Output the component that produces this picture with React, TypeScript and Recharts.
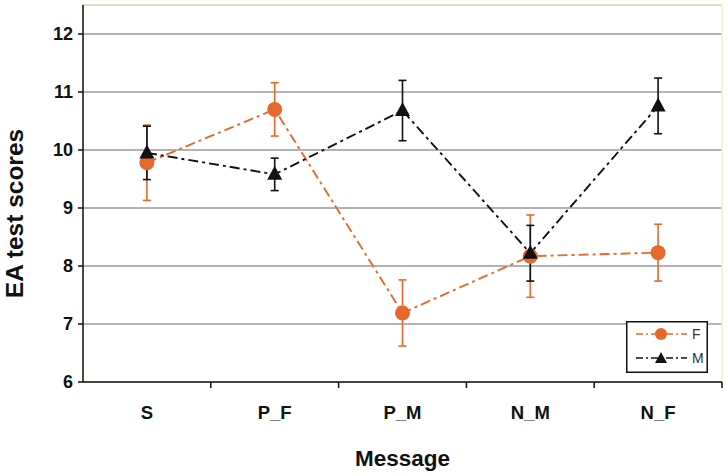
import {
	LineChart,
	Line,
	XAxis,
	YAxis,
	CartesianGrid,
	ErrorBar,
	ReferenceArea,
} from "recharts";

const messages = ["S", "P_F", "P_M", "N_M", "N_F"];
const femaleScores = [9.78, 10.7, 7.19, 8.17, 8.23];
const femaleErr = [0.65, 0.46, 0.57, 0.71, 0.49];
const maleScores = [9.95, 9.58, 10.68, 8.22, 10.76];
const maleErr = [0.46, 0.28, 0.52, 0.48, 0.48];
const yTicks = [6, 7, 8, 9, 10, 11, 12];

const ORANGE = "#e5692b";
const BLACK = "#111111";
const FONT = "'Liberation Sans', Arial, sans-serif";

const W = 728;
const H = 476;
const MARGIN = { top: 5, right: 6, left: 0, bottom: 0 };
const Y_AXIS_W = 83;
const BAND = (W - MARGIN.left - MARGIN.right - Y_AXIS_W) / messages.length;
const DASH = "10 4 3 4";

const chartData = messages.map((m, i) => ({
	message: m,
	F: femaleScores[i],
	fErr: femaleErr[i],
	M: maleScores[i],
	mErr: maleErr[i],
}));

function Circle({ cx, cy }: any) {
	if (cx == null || cy == null) return null;
	return <circle cx={cx} cy={cy} r={7.5} fill={ORANGE} />;
}

function Triangle({ cx, cy }: any) {
	if (cx == null || cy == null) return null;
	return (
		<polygon
			points={`${cx},${cy - 8.5} ${cx - 7.5},${cy + 5.5} ${cx + 7.5},${cy + 5.5}`}
			fill={BLACK}
		/>
	);
}

function XTick({ x, y, payload }: any) {
	return (
		<g>
			<line x1={x + BAND / 2} y1={y - 6} x2={x + BAND / 2} y2={y} stroke={BLACK} strokeWidth={1.5} />
			<text
				x={x}
				y={y + 31}
				textAnchor="middle"
				fontFamily={FONT}
				fontWeight="bold"
				fontSize={18.5}
				fill={BLACK}
			>
				{payload.value}
			</text>
		</g>
	);
}

// legend drawn as an overlay so it does not shrink the plot area
function LegendBox() {
	const rows = [
		{ name: "F", color: ORANGE, marker: (cx: number, cy: number) => <circle cx={cx} cy={cy} r={6} fill={ORANGE} /> },
		{
			name: "M",
			color: BLACK,
			marker: (cx: number, cy: number) => (
				<polygon points={`${cx},${cy - 6} ${cx - 6},${cy + 5} ${cx + 6},${cy + 5}`} fill={BLACK} />
			),
		},
	];
	return (
		<svg
			width={82}
			height={52}
			style={{ position: "absolute", left: 626, top: 321, display: "block" }}
		>
			<rect x={0.75} y={0.75} width={80.5} height={50.5} fill="#fff" stroke={BLACK} strokeWidth={1.5} />
			{rows.map((r, i) => {
				const cy = 13 + i * 24;
				return (
					<g key={r.name}>
						<line x1={10} y1={cy} x2={61} y2={cy} stroke={r.color} strokeWidth={1.6} strokeDasharray="7 3 2 3" />
						{r.marker(35, cy)}
						<text x={66} y={cy + 5} fontFamily={FONT} fontSize={14} fill="#333">
							{r.name}
						</text>
					</g>
				);
			})}
		</svg>
	);
}

function YTitle({ viewBox }: any) {
	const x = 14;
	const y = viewBox.y + viewBox.height / 2 + 20;
	return (
		<text
			x={x}
			y={y}
			transform={`rotate(-90 ${x} ${y})`}
			textAnchor="middle"
			dominantBaseline="central"
			fontFamily={FONT}
			fontWeight="bold"
			fontSize={24.5}
			fill={BLACK}
		>
			EA test scores
		</text>
	);
}

export default function App() {
	return (
		<div style={{ position: "absolute", left: 0, top: 0, width: W, height: H, background: "#fff" }}>
			<LineChart width={W} height={H} data={chartData} margin={MARGIN}>
				<ReferenceArea y1={6} y2={12.5} fill="none" stroke="#f4efc8" strokeWidth={1.5} />
				<CartesianGrid vertical={false} stroke="#9a9a9a" strokeWidth={1.5} />
				<XAxis
					dataKey="message"
					scale="band"
					height={94}
					axisLine={{ stroke: BLACK, strokeWidth: 1.5 }}
					tickLine={false}
					tickSize={6}
					tickMargin={0}
					tick={<XTick />}
					interval={0}
					label={{
						value: "Message",
						position: "insideBottom",
						offset: 10,
						fontFamily: FONT,
						fontWeight: "bold",
						fontSize: 22.5,
						fill: BLACK,
					}}
				/>
				<YAxis
					width={Y_AXIS_W}
					domain={[6, 12.5]}
					ticks={yTicks}
					interval={0}
					axisLine={{ stroke: BLACK, strokeWidth: 1.5 }}
					tickLine={{ stroke: BLACK, strokeWidth: 1.5 }}
					tickSize={5}
					tickMargin={5}
					tick={{ fontFamily: FONT, fontWeight: "bold", fontSize: 18, fill: BLACK }}
					label={<YTitle />}
				/>
				<Line
					dataKey="F"
					name="F"
					stroke={ORANGE}
					strokeWidth={1.9}
					strokeDasharray={DASH}
					dot={<Circle />}
					activeDot={false}
					isAnimationActive={false}
				>
					<ErrorBar dataKey="fErr" width={4} stroke={ORANGE} strokeWidth={1.6} />
				</Line>
				<Line
					dataKey="M"
					name="M"
					stroke={BLACK}
					strokeWidth={1.9}
					strokeDasharray={DASH}
					dot={<Triangle />}
					activeDot={false}
					isAnimationActive={false}
				>
					<ErrorBar dataKey="mErr" width={4} stroke={BLACK} strokeWidth={1.6} />
				</Line>
			</LineChart>
			<LegendBox />
		</div>
	);
}
